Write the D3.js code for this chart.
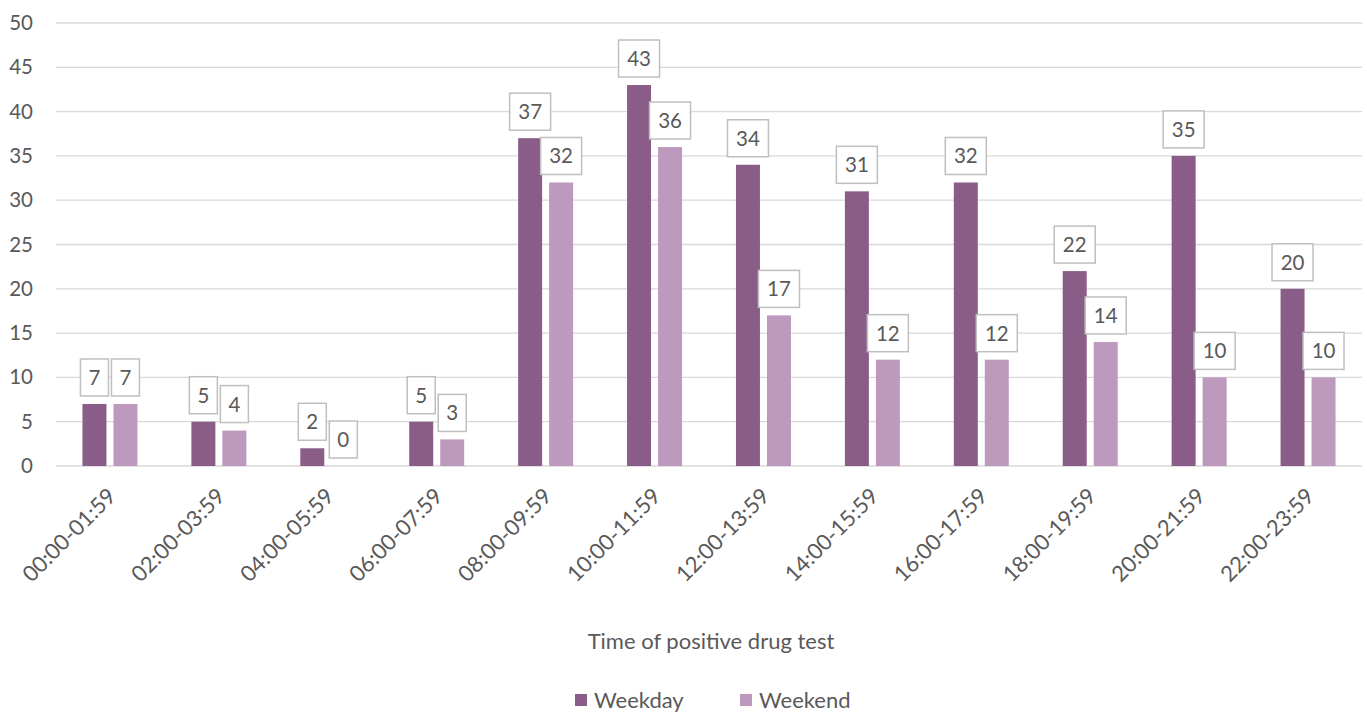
<!DOCTYPE html>
<html>
<head>
<meta charset="utf-8">
<script src="https://cdn.jsdelivr.net/npm/d3@7"></script>
<style>
  html, body { margin: 0; padding: 0; background: #fff; }
  svg { display: block; font-family: Lato, "Open Sans", "Liberation Sans", sans-serif; }
</style>
</head>
<body>
<svg id="chart" width="1367" height="713"></svg>
<script>
// Positive drug tests by two-hour time slot
const categories = ["00:00-01:59", "02:00-03:59", "04:00-05:59", "06:00-07:59",
  "08:00-09:59", "10:00-11:59", "12:00-13:59", "14:00-15:59",
  "16:00-17:59", "18:00-19:59", "20:00-21:59", "22:00-23:59"];
const weekday = [7, 5, 2, 5, 37, 43, 34, 31, 32, 22, 35, 20];
const weekend = [7, 4, 0, 3, 32, 36, 17, 12, 12, 14, 10, 10];
const seriesNames = ["Weekday", "Weekend"];
const yTicks = [0, 5, 10, 15, 20, 25, 30, 35, 40, 45, 50];
const colors = ["#8a5d88", "#bc99bd"];

const svg = d3.select("#chart");
const textColor = "#595959";

const x = d3.scaleBand().domain(categories).range([55.5, 1362.5]).paddingInner(0).paddingOuter(0);
const y = d3.scaleLinear().domain([0, 50]).range([466, 23]);
const sub = d3.scaleBand().domain(seriesNames).range([0, x.bandwidth()]).paddingInner(0.226).paddingOuter(0.87);

// Horizontal gridlines
svg.append("g").selectAll("line").data(yTicks).join("line")
  .attr("x1", 56).attr("x2", 1362)
  .attr("y1", d => y(d)).attr("y2", d => y(d))
  .attr("stroke", "#d9d9d9").attr("stroke-width", 1.3);

// Y axis labels
const yAxis = d3.axisLeft(y).tickValues(yTicks).tickSize(0).tickPadding(0);
const ya = svg.append("g").attr("transform", "translate(33,0)").call(yAxis);
ya.select(".domain").remove();
ya.selectAll("text").attr("font-size", 20.5).attr("fill", textColor)
  .attr("font-family", "Lato, 'Open Sans', sans-serif");

// Bars
const rows = categories.map((c, i) => ({ cat: c, vals: [weekday[i], weekend[i]] }));
const groups = svg.append("g").selectAll("g").data(rows).join("g")
  .attr("transform", d => `translate(${x(d.cat)},0)`);

groups.selectAll("rect").data(d => d.vals.map((v, k) => ({ v, k })))
  .join("rect")
  .attr("x", d => sub(seriesNames[d.k]))
  .attr("width", sub.bandwidth())
  .attr("y", d => y(d.v))
  .attr("height", d => y(0) - y(d.v))
  .attr("fill", d => colors[d.k]);

// Value labels in boxes
const labels = groups.selectAll("g.lbl").data(d => d.vals.map((v, k) => ({ v, k })))
  .join("g").attr("class", "lbl")
  .attr("transform", d => `translate(${sub(seriesNames[d.k]) + sub.bandwidth() / 2},${y(d.v) - 8})`);

labels.append("rect")
  .attr("x", d => String(d.v).length > 1 ? -20.5 : -14)
  .attr("width", d => String(d.v).length > 1 ? 41 : 28)
  .attr("y", -37).attr("height", 37)
  .attr("fill", "#fff").attr("stroke", "#bfbfbf").attr("stroke-width", 1.5);

labels.append("text")
  .attr("text-anchor", "middle").attr("y", -11)
  .attr("font-size", 20.5).attr("fill", textColor)
  .text(d => d.v);

// X axis category labels (rotated)
const xa = svg.append("g");
xa.selectAll("text").data(categories).join("text")
  .attr("transform", d => `translate(${x(d) + x.bandwidth() / 2 + 2},${492}) rotate(-45)`)
  .attr("text-anchor", "end")
  .attr("dy", "0.35em")
  .attr("font-size", 22).attr("fill", textColor)
  .text(d => d);

// Axis title
svg.append("text")
  .attr("x", 711).attr("y", 649)
  .attr("text-anchor", "middle")
  .attr("font-size", 22).attr("fill", textColor)
  .text("Time of positive drug test");

// Legend
const legend = svg.append("g").attr("transform", "translate(575,700)");
const lx = [0, 165];
seriesNames.forEach((name, i) => {
  const g = legend.append("g").attr("transform", `translate(${lx[i]},0)`);
  g.append("rect").attr("x", 0).attr("y", -6).attr("width", 12).attr("height", 12).attr("fill", colors[i]);
  g.append("text").attr("x", 19).attr("y", 0).attr("dy", "0.35em")
    .attr("font-size", 22).attr("fill", textColor).text(name);
});
</script>
</body>
</html>
